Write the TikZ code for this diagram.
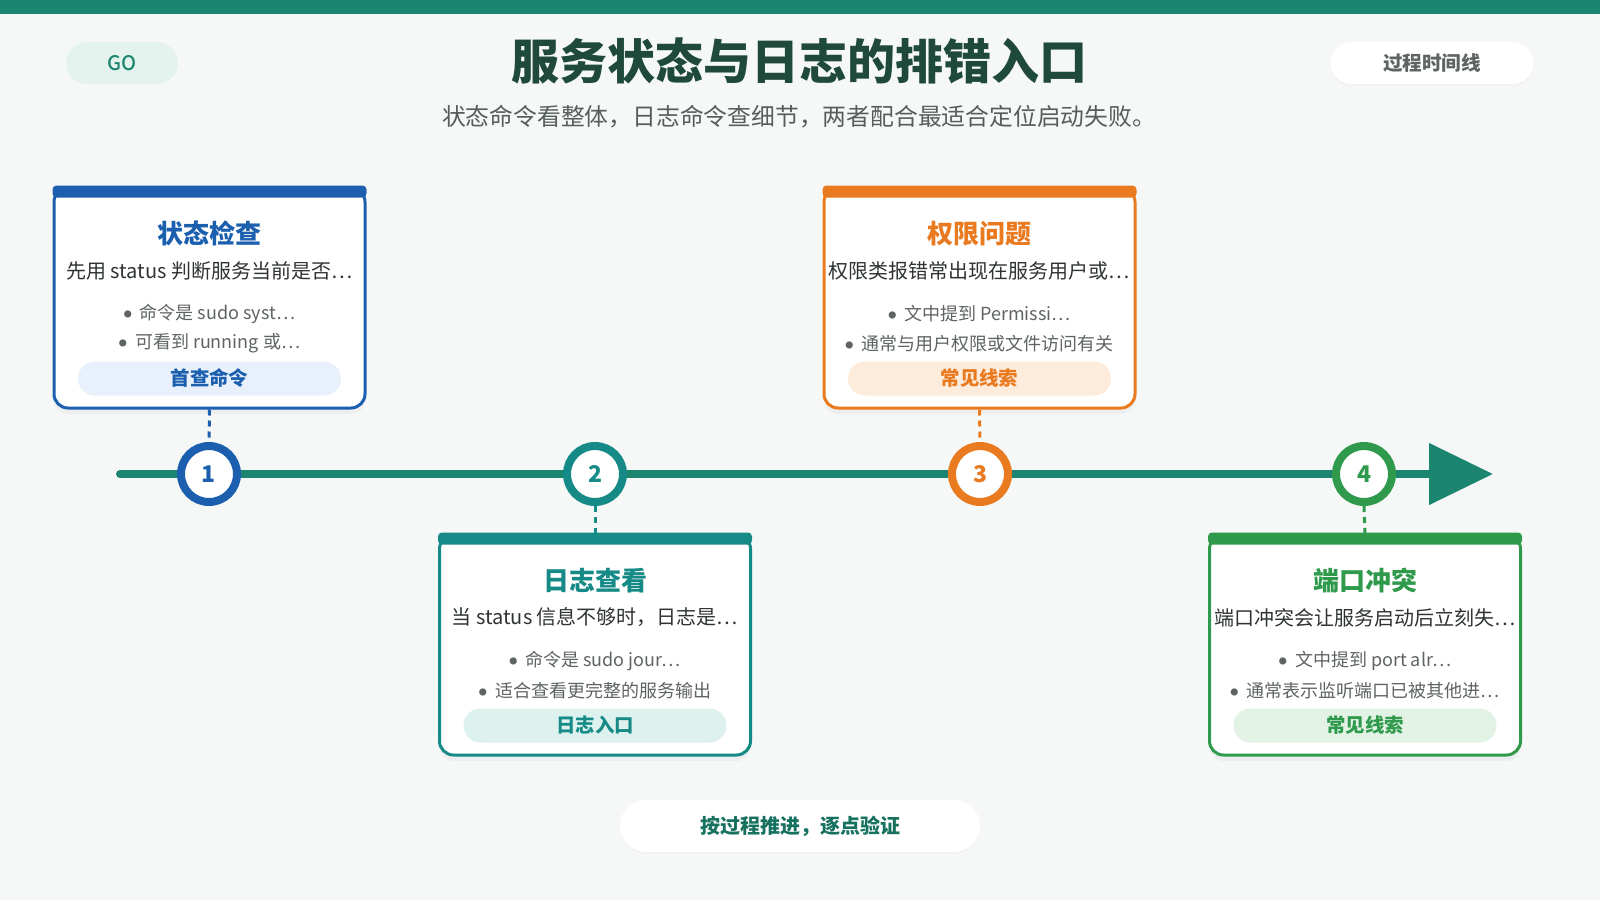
\documentclass[tikz,border=0pt]{standalone}
\usepackage{fontspec}
\setmainfont{Noto Sans CJK SC}
\newfontfamily\medfont{Noto Sans CJK SC Medium}
\usetikzlibrary{arrows.meta,positioning,calc,shadows}

\definecolor{bgcol}{HTML}{F6F8F7}
\definecolor{linecol}{HTML}{1B8570}
\definecolor{headcol}{HTML}{1F4A3B}
\definecolor{subcol}{HTML}{555E5A}
\definecolor{golight}{HTML}{E5F3EF}
\definecolor{bluecol}{HTML}{1B5FAE}
\definecolor{bluelight}{HTML}{E7F0FB}
\definecolor{tealcol}{HTML}{168A86}
\definecolor{teallight}{HTML}{DDF2EF}
\definecolor{orangecol}{HTML}{E97A1F}
\definecolor{orangelight}{HTML}{FDEBDB}
\definecolor{greencol}{HTML}{2F9A4C}
\definecolor{greenlight}{HTML}{E2F2E5}
\definecolor{textdark}{HTML}{2F3432}
\definecolor{textgray}{HTML}{5E6461}

\newcommand{\itemdot}{\raisebox{1pt}{\fontsize{4}{4}\selectfont ●}\hspace{0.45em}}

\begin{document}
\begin{tikzpicture}[
    x=0.5pt, y=-0.5pt,
    card/.style={draw, rounded corners=7pt, line width=1.5pt, fill=white, minimum width=155.5pt, minimum height=110pt,
        drop shadow={opacity=0.07, shadow xshift=0pt, shadow yshift=-3pt}},
    card_title/.style={font=\bfseries\fontsize{13}{15}\selectfont},
    card_desc/.style={font=\fontsize{10}{12}\selectfont, text=textdark},
    card_item/.style={font=\fontsize{9}{11}\selectfont, text=textgray},
    pill/.style={rounded corners=8.5pt, minimum width=131.5pt, minimum height=17pt, inner sep=0pt, font=\bfseries\fontsize{9.7}{11}\selectfont},
    stepdot/.style={circle, fill=white, line width=4pt, minimum size=28pt, inner sep=0pt, font=\bfseries\fontsize{11.5}{13}\selectfont},
    link/.style={line width=1.5pt, dash pattern=on 3pt off 2.5pt}
]

    % Page background and top band
    \useasboundingbox (0,0) rectangle (1600,900);
    \fill[bgcol] (0,0) rectangle (1600,900);
    \fill[linecol] (0,0) rectangle (1600,14);

    % Header
    \node[fill=golight, rounded corners=10.5pt, minimum width=56pt, minimum height=21pt, text=linecol, font=\medfont\fontsize{10}{12}\selectfont] (go) at (122,63) {GO};
    \node[font=\bfseries\fontsize{24}{28}\selectfont, text=headcol] (title) at (799,61) {服务状态与日志的排错入口};
    \node[font=\fontsize{11.9}{14}\selectfont, text=subcol] (subtitle) at (799,117) {状态命令看整体，日志命令查细节，两者配合最适合定位启动失败。};
    \node[fill=white, rounded corners=10.5pt, minimum width=101.5pt, minimum height=21pt, text=textgray, font=\bfseries\fontsize{9.8}{11}\selectfont,
        drop shadow={opacity=0.04, shadow xshift=0pt, shadow yshift=-1pt}] (mode) at (1432,63) {过程时间线};

    % Timeline axis
    \coordinate (tl_start) at (120,474);
    \coordinate (tl_end) at (1493,474);
    \draw[line width=4pt, linecol, line cap=round, -{Triangle[length=32pt, width=30pt]}] (tl_start) -- (tl_end);

    % Step markers
    \node[stepdot, draw=bluecol, text=bluecol] (n1) at (209,474) {1};
    \node[stepdot, draw=tealcol, text=tealcol] (n2) at (595,474) {2};
    \node[stepdot, draw=orangecol, text=orangecol] (n3) at (980,474) {3};
    \node[stepdot, draw=greencol, text=greencol] (n4) at (1364,474) {4};

    % Cards
    \node[card, draw=bluecol] (c1) at (209.5,298) {};
    \node[card, draw=tealcol] (c2) at (595,645) {};
    \node[card, draw=orangecol] (c3) at (979.5,298) {};
    \node[card, draw=greencol] (c4) at (1365,645) {};

    % Coloured top bars
    \fill[bluecol, rounded corners=2pt] ($(c1.north west)+(0,-1)$) rectangle ($(c1.north east)+(0,11)$);
    \fill[tealcol, rounded corners=2pt] ($(c2.north west)+(0,-1)$) rectangle ($(c2.north east)+(0,11)$);
    \fill[orangecol, rounded corners=2pt] ($(c3.north west)+(0,-1)$) rectangle ($(c3.north east)+(0,11)$);
    \fill[greencol, rounded corners=2pt] ($(c4.north west)+(0,-1)$) rectangle ($(c4.north east)+(0,11)$);

    % Card 1: status check
    \node[card_title, text=bluecol] (t1) at ($(c1.north)+(0,47)$) {状态检查};
    \node[card_desc] (d1) at ($(c1.north)+(0,84)$) {先用 status 判断服务当前是否…};
    \node[card_item] (a1) at ($(c1.north)+(0,127)$) {\itemdot 命令是 sudo syst…};
    \node[card_item] (b1) at ($(c1.north)+(0,157)$) {\itemdot 可看到 running 或…};
    \node[pill, fill=bluelight, text=bluecol] (p1) at ($(c1.north)+(0,192)$) {首查命令};

    % Card 2: logs
    \node[card_title, text=tealcol] (t2) at ($(c2.north)+(0,47)$) {日志查看};
    \node[card_desc] (d2) at ($(c2.north)+(0,84)$) {当 status 信息不够时，日志是…};
    \node[card_item] (a2) at ($(c2.north)+(0,127)$) {\itemdot 命令是 sudo jour…};
    \node[card_item] (b2) at ($(c2.north)+(0,157)$) {\itemdot 适合查看更完整的服务输出};
    \node[pill, fill=teallight, text=tealcol] (p2) at ($(c2.north)+(0,192)$) {日志入口};

    % Card 3: permissions
    \node[card_title, text=orangecol] (t3) at ($(c3.north)+(0,47)$) {权限问题};
    \node[card_desc] (d3) at ($(c3.north)+(0,84)$) {权限类报错常出现在服务用户或…};
    \node[card_item] (a3) at ($(c3.north)+(0,127)$) {\itemdot 文中提到 Permissi…};
    \node[card_item] (b3) at ($(c3.north)+(0,157)$) {\itemdot 通常与用户权限或文件访问有关};
    \node[pill, fill=orangelight, text=orangecol] (p3) at ($(c3.north)+(0,192)$) {常见线索};

    % Card 4: port conflict
    \node[card_title, text=greencol] (t4) at ($(c4.north)+(0,47)$) {端口冲突};
    \node[card_desc] (d4) at ($(c4.north)+(0,84)$) {端口冲突会让服务启动后立刻失…};
    \node[card_item] (a4) at ($(c4.north)+(0,127)$) {\itemdot 文中提到 port alr…};
    \node[card_item] (b4) at ($(c4.north)+(0,157)$) {\itemdot 通常表示监听端口已被其他进…};
    \node[pill, fill=greenlight, text=greencol] (p4) at ($(c4.north)+(0,192)$) {常见线索};

    % Dashed links card <-> marker
    \draw[link, bluecol] (c1.south) -- (n1.north);
    \draw[link, tealcol] (n2.south) -- (c2.north);
    \draw[link, orangecol] (c3.south) -- (n3.north);
    \draw[link, greencol] (n4.south) -- (c4.north);

    % Footer
    \node[fill=white, rounded corners=13pt, minimum width=180pt, minimum height=26pt, text=linecol!85!black, font=\bfseries\fontsize{10}{12}\selectfont,
        drop shadow={opacity=0.04, shadow xshift=0pt, shadow yshift=-1pt}] (footer) at (800,826) {按过程推进，逐点验证};

\end{tikzpicture}
\end{document}
